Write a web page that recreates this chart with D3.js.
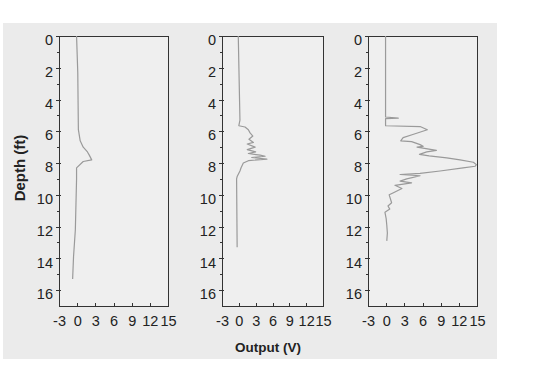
<!DOCTYPE html>
<html>
<head>
<meta charset="utf-8">
<style>
  body { margin: 0; background: #fff; }
  svg { display: block; font-family: Arial, "Liberation Sans", Helvetica, sans-serif; }
  .axis path, .axis line { stroke: #333; fill: none; shape-rendering: crispEdges; }
  .axis text { fill: #222; font-size: 14.5px; }
  .trace { fill: none; stroke: #9a9a9a; stroke-width: 1.2px; stroke-linejoin: round; }
  .frame { fill: #efefef; stroke: #333; stroke-width: 1px; shape-rendering: crispEdges; }
  .title { fill: #222; font-size: 14px; font-weight: bold; }
</style>
</head>
<body>
<script src="https://cdn.jsdelivr.net/npm/d3@7"></script>
<script>

  var depth1 = [0, 2.3, 5.9, 6.6, 7.0, 7.3, 7.5, 7.8, 7.9, 8.3, 9.0, 12.2, 13.9, 15.3];
  var volt1  = [-0.1, 0.1, 0.2, 0.5, 1.0, 1.7, 2.0, 2.4, 1.0, -0.1, -0.1, -0.3, -0.6, -0.75];

  var depth2 = [0, 5.3, 5.65, 5.73, 5.9, 6.1, 6.3, 6.5, 6.7, 6.8, 7.0, 7.15, 7.3, 7.4, 7.5, 7.57, 7.65, 7.75, 7.85,
                8.0, 8.3, 8.5, 8.85, 9.0, 13.3];
  var volt2  = [-0.1, 0.2, 0.0, 1.1, 1.7, 2.0, 2.5, 1.8, 2.6, 1.5, 2.9, 1.5, 3.0, 1.7, 3.8, 4.7, 2.3, 5.0, 1.7,
                0.8, 0.4, 0.2, -0.3, -0.4, -0.3];

  var depth3 = [0, 5.1, 5.17, 5.2, 5.65, 5.7, 5.9, 6.2, 6.4, 6.6, 6.65, 6.84, 6.95, 7.0, 7.2, 7.3, 7.45, 7.55,
                7.67, 7.8, 7.95, 8.1, 8.2, 8.3, 8.5, 8.65, 8.72, 8.8, 9.0, 9.14, 9.25, 9.4, 9.6, 9.87,
                10.0, 10.5, 10.7, 10.9, 11.1, 11.5, 11.9, 12.4, 12.9];
  var volt3  = [-0.1, -0.1, 2.0, -0.1, -0.1, 5.6, 6.8, 4.4, 2.8, 2.4, 4.2, 5.6, 6.1, 5.1, 8.3, 6.7, 5.5, 7.1,
                10.0, 12.2, 14.4, 14.9, 14.7, 12.7, 8.9, 5.6, 2.3, 5.6, 3.4, 2.3, 4.2, 1.45, 2.6, 1.2,
                0.5, 0.9, 0.3, 0.6, -0.2, 0.0, 0.1, 0.2, 0.1];

  var xTicks = [-3, 0, 3, 6, 9, 12, 15];
  var yTicks = [0, 2, 4, 6, 8, 10, 12, 14, 16];

  var panels = [
    { left: 59,  right: 168, depth: depth1, volt: volt1 },
    { left: 222, right: 323, depth: depth2, volt: volt2 },
    { left: 368, right: 477, depth: depth3, volt: volt3 }
  ];
  var plotTop = 36, plotBottom = 306;

  var svg = d3.select("body").append("svg")
      .attr("width", 553)
      .attr("height", 386);

  svg.append("rect")
      .attr("x", 3).attr("y", 23)
      .attr("width", 494).attr("height", 336)
      .attr("fill", "#ebebeb");

  var y = d3.scaleLinear().domain([0, 17]).range([plotTop, plotBottom]);
  var plain = function(d) { return String(d); };

  panels.forEach(function(p) {
    var x = d3.scaleLinear().domain([-3, 15]).range([p.left, p.right]);

    svg.append("rect")
        .attr("class", "frame")
        .attr("x", p.left).attr("y", plotTop)
        .attr("width", p.right - p.left).attr("height", plotBottom - plotTop);

    // minor ticks on depth axis
    svg.append("g")
        .attr("class", "axis")
        .attr("transform", "translate(" + p.left + ",0)")
        .call(d3.axisLeft(y).tickValues(d3.range(1, 17, 2)).tickSize(2).tickFormat(""))
        .select(".domain").remove();

    var ya = svg.append("g")
        .attr("class", "axis")
        .attr("transform", "translate(" + p.left + ",0)")
        .call(d3.axisLeft(y).tickValues(yTicks).tickFormat(plain).tickSizeInner(3).tickSizeOuter(0).tickPadding(3));
    ya.selectAll("line").attr("x2", 2).attr("x1", -3);
    ya.selectAll("text").attr("dy", "0.6em");

    var xa = svg.append("g")
        .attr("class", "axis")
        .attr("transform", "translate(0," + plotBottom + ")")
        .call(d3.axisBottom(x).tickValues(xTicks).tickFormat(plain).tickSizeInner(-3).tickSizeOuter(0).tickPadding(10));
    xa.selectAll("text").attr("dy", "0.71em");

    var line = d3.line()
        .x(function(d, i) { return x(p.volt[i]); })
        .y(function(d) { return y(d); });

    svg.append("path")
        .attr("class", "trace")
        .attr("d", line(p.depth));
  });

  svg.append("text")
      .attr("class", "title")
      .attr("transform", "translate(25,168) rotate(-90)")
      .attr("text-anchor", "middle")
      .style("font-size", "15px")
      .text("Depth (ft)");

  svg.append("text")
      .attr("class", "title")
      .attr("x", 268).attr("y", 352)
      .attr("text-anchor", "middle")
      .style("font-size", "13.5px")
      .text("Output (V)");

</script>
</body>
</html>
